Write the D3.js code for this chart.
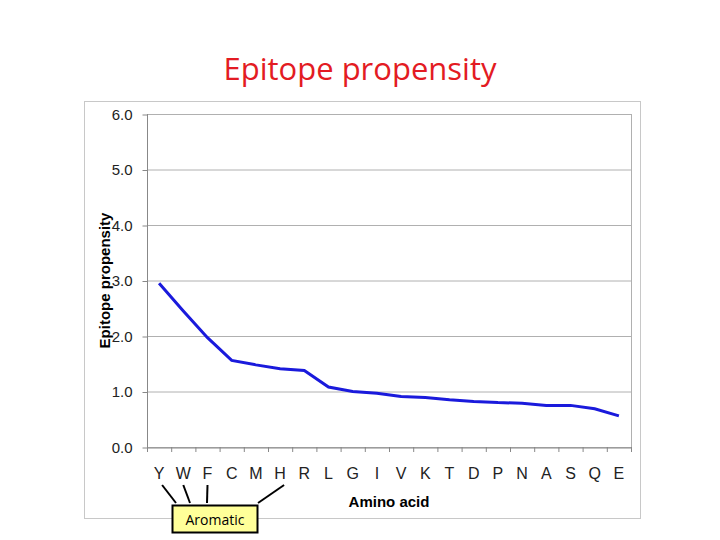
<!DOCTYPE html>
<html><head><meta charset="utf-8">
<script src="https://cdn.jsdelivr.net/npm/d3@7"></script>
<style>body{margin:0;background:#fff}</style>
</head><body>
<svg id="c" width="720" height="540"></svg>
<script>
var aminoAcids = ['Y','W','F','C','M','H','R','L','G','I','V','K','T','D','P','N','A','S','Q','E'];
var propensity = [2.95,2.45,1.97,1.56,1.48,1.41,1.38,1.08,1.00,0.97,0.91,0.89,0.85,0.82,0.80,0.79,0.75,0.75,0.69,0.56];
var yTicks = [0,1,2,3,4,5,6];
var aromatic = ['Y','W','F','H'];

var svg = d3.select('#c');
var plotLeft = 147, plotRight = 631, plotTop = 114, plotBottom = 447;

svg.append('text').attr('x', 360).attr('y', 80).attr('text-anchor', 'middle')
  .style('font-family', 'Open Sans, sans-serif').style('font-size', '31px').style('fill', '#e31b23')
  .text('Epitope propensity');

svg.append('rect').attr('x', 84.5).attr('y', 101.5).attr('width', 556).attr('height', 417)
  .style('fill', 'none').style('stroke', '#c8c8c8');

var x = d3.scaleBand().domain(aminoAcids).range([plotLeft, plotRight]);
var y = d3.scaleLinear().domain([0, 6]).range([plotBottom, plotTop]);

svg.append('g').selectAll('line').data(yTicks).enter().append('line')
  .attr('x1', plotLeft).attr('x2', plotRight)
  .attr('y1', function(d){ return y(d) + 0.5; }).attr('y2', function(d){ return y(d) + 0.5; })
  .style('stroke', '#b0b0b0');
svg.append('line').attr('x1', plotRight + 0.5).attr('x2', plotRight + 0.5).attr('y1', plotTop).attr('y2', plotBottom)
  .style('stroke', '#b0b0b0');

var yAxis = svg.append('g').attr('transform', 'translate(' + (plotLeft + 0.5) + ',0.5)')
  .call(d3.axisLeft(y).tickValues(yTicks).tickSize(5).tickPadding(10));
var xAxis = svg.append('g').attr('transform', 'translate(0,' + (plotBottom + 0.5) + ')')
  .call(d3.axisBottom(x).tickSize(0).tickPadding(20));
[yAxis, xAxis].forEach(function(a){
  a.selectAll('path,line').style('stroke', '#888');
  a.selectAll('text').style('font-family', 'Liberation Sans, Arial, sans-serif').style('font-size', '15px').style('fill', '#222');
});
xAxis.selectAll('text').style('font-size', '16px');
yAxis.select('.domain').remove();
svg.append('line').attr('x1', plotLeft + 0.5).attr('x2', plotLeft + 0.5).attr('y1', plotTop).attr('y2', plotBottom).style('stroke', '#888');
svg.append('g').selectAll('line').data(aminoAcids.concat(['_end'])).enter().append('line')
  .attr('x1', function(d, i){ return plotLeft + i * x.step() + 0.5; })
  .attr('x2', function(d, i){ return plotLeft + i * x.step() + 0.5; })
  .attr('y1', plotBottom).attr('y2', plotBottom + 5).style('stroke', '#888');

svg.append('text').attr('transform', 'translate(110,' + ((plotTop + plotBottom) / 2) + ') rotate(-90)')
  .attr('text-anchor', 'middle').style('font-family', 'Liberation Sans, Arial, sans-serif')
  .style('font-size', '15px').style('font-weight', 'bold').text('Epitope propensity');
svg.append('text').attr('x', 389).attr('y', 507).attr('text-anchor', 'middle')
  .style('font-family', 'Liberation Sans, Arial, sans-serif').style('font-size', '15px').style('font-weight', 'bold')
  .text('Amino acid');

var line = d3.line().x(function(d, i){ return x(aminoAcids[i]) + x.bandwidth() / 2; }).y(function(d){ return y(d); });
svg.append('path').datum(propensity).attr('d', line)
  .style('fill', 'none').style('stroke', '#1a1adc').style('stroke-width', 3);

// callout
var boxX = 172.5, boxY = 505.5, boxW = 85, boxH = 27;
var ends = {Y: 176, W: 190, F: 207, H: 258};
svg.append('g').selectAll('line').data(aromatic).enter().append('line')
  .attr('x1', function(d){ return x(d) + x.bandwidth() / 2 + (d === 'Y' ? 3 : d === 'H' ? 4 : 0); })
  .attr('y1', 485)
  .attr('x2', function(d){ return ends[d]; }).attr('y2', 503)
  .style('stroke', '#000').style('stroke-width', 2);
svg.append('rect').attr('x', boxX).attr('y', boxY).attr('width', boxW).attr('height', boxH)
  .style('fill', '#ffff99').style('stroke', '#000').style('stroke-width', 2);
svg.append('text').attr('x', boxX + boxW / 2).attr('y', boxY + 19).attr('text-anchor', 'middle')
  .style('font-family', 'Open Sans, sans-serif').style('font-size', '14px').text('Aromatic');
</script>
</body></html>
